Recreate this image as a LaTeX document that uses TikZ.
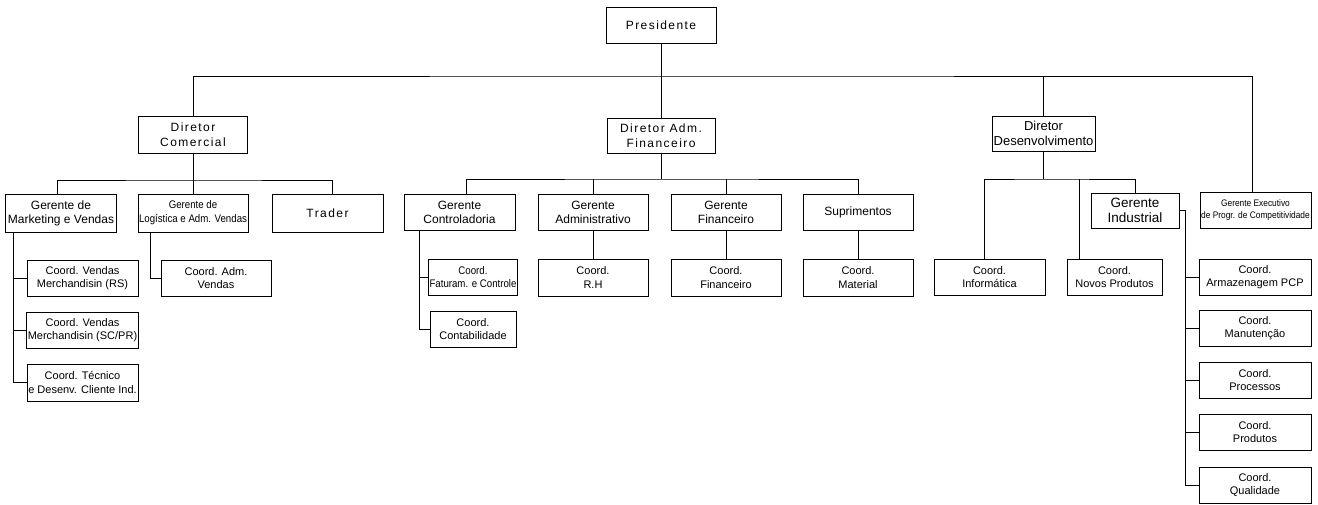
\documentclass[tikz,border=0pt]{standalone}
\usepackage{fontspec}
\setmainfont{Liberation Sans}
\newfontfamily\spaced[LetterSpace=12]{Liberation Sans}
\newfontfamily\cond[FakeStretch=0.88]{Liberation Sans}
\begin{document}
\begin{tikzpicture}[x=1pt,y=-1pt,
  box/.style={draw, line width=0.8pt, align=center, inner sep=1pt, outer sep=0pt, fill=white},
  sz/.style 2 args={minimum width=#1pt, minimum height=#2pt},
  title/.style={font=\spaced\fontsize{12}{14.5}\selectfont},
  mid/.style={font=\fontsize{12}{14}\selectfont},
  small/.style={font=\fontsize{11}{13.5}\selectfont},
  wire/.style={line width=0.8pt}]
\useasboundingbox (0,0) rectangle (1318,504);
% level 0
\node[box,sz={110}{36},title] (pres) at (661,25) {Presidente};
% level 1
\node[box,sz={109}{37},title] (dc) at (193,134.5) {Diretor\\Comercial};
\node[box,sz={108}{35},title] (daf) at (661,135.5) {Diretor Adm.\\Financeiro};
\node[box,sz={103}{35},font=\fontsize{13}{15}\selectfont] (dd) at (1043.5,133.5) {Diretor\\Desenvolvimento};
\node[box,sz={111}{36},font=\cond\fontsize{9.5}{12}\selectfont] (gexec) at (1255.5,210) {Gerente Executivo\\de Progr. de Competitividade};
% level 2 comercial
\node[box,sz={111}{38},mid] (gmv) at (61,213) {Gerente de\\Marketing e Vendas};
\node[box,sz={110}{38},font=\cond\fontsize{11}{14}\selectfont] (glog) at (193,213) {Gerente de\\Logística e Adm. Vendas};
\node[box,sz={111}{38},title] (trader) at (327.5,213) {Trader};
% level 2 adm fin
\node[box,sz={111}{36},mid] (gctrl) at (459.5,212) {Gerente\\Controladoria};
\node[box,sz={110}{36},mid] (gadm) at (593,212) {Gerente\\Administrativo};
\node[box,sz={110}{36},mid] (gfin) at (726,212) {Gerente\\Financeiro};
\node[box,sz={110}{36},mid] (sup) at (858,212) {Suprimentos};
% level 2 desenv
\node[box,sz={88}{35},font=\fontsize{13.5}{15.5}\selectfont] (gind) at (1135,210.5) {Gerente\\Industrial};
% level 3
\node[box,sz={111}{36},small] (cvrs) at (82.5,278) {Coord. Vendas\\Merchandisin (RS)};
\node[box,sz={111}{36},small] (cvsc) at (82.5,330) {Coord. Vendas\\Merchandisin (SC/PR)};
\node[box,sz={111}{37},small] (ctec) at (82.5,382.5) {Coord. Técnico\\e Desenv. Cliente Ind.};
\node[box,sz={110}{36},small] (cadmv) at (216,278) {Coord. Adm.\\Vendas};
\node[box,sz={86}{36},font=\cond\fontsize{11}{13.5}\selectfont] (cfat) at (473,277) {Coord.\\Faturam. e Controle};
\node[box,sz={86}{36},small] (ccont) at (473,329) {Coord.\\Contabilidade};
\node[box,sz={110}{37},small] (crh) at (593,277.5) {Coord.\\R.H};
\node[box,sz={110}{37},small] (cfinan) at (726,277.5) {Coord.\\Financeiro};
\node[box,sz={110}{37},small] (cmat) at (858,277.5) {Coord.\\Material};
\node[box,sz={111}{36},small] (cinf) at (989.5,277) {Coord.\\Informática};
\node[box,sz={95}{36},small] (cnovos) at (1114.5,277) {Coord.\\Novos Produtos};
\node[box,sz={112}{36},small] (carm) at (1255,277) {Coord.\\Armazenagem PCP};
\node[box,sz={112}{36},small] (cman) at (1255,328) {Coord.\\Manutenção};
\node[box,sz={112}{36},small] (cproc) at (1255,380) {Coord.\\Processos};
\node[box,sz={112}{36},small] (cprod) at (1255,432) {Coord.\\Produtos};
\node[box,sz={112}{36},small] (cqual) at (1255,485) {Coord.\\Qualidade};
% connectors
\begin{scope}[wire]
\coordinate (b0) at (661,76);
\draw (pres.south) -- (b0);
\draw (dc.north) |- (b0) -| ([xshift=-3pt]gexec.north);
\draw (b0) -- (daf.north);
\draw (dd.north) -- (dd.north |- b0);
% comercial
\coordinate (b1) at (193,180);
\draw (dc.south) -- (b1);
\draw ([xshift=-4pt]gmv.north) |- (b1) -| ([xshift=5pt]trader.north);
\draw (glog.north) -- (b1);
\coordinate (m0) at ([xshift=-48pt]gmv.south);
\draw (m0) |- (ctec.west);
\draw (cvrs.west) -- (cvrs.west -| m0);
\draw (cvsc.west) -- (cvsc.west -| m0);
\draw ([xshift=-43pt]glog.south) |- (cadmv.west);
% adm fin
\coordinate (b2) at (661,179);
\draw (daf.south) -- (b2);
\draw ([xshift=7pt]gctrl.north) |- (b2) -| (sup.north);
\draw (gadm.north) -- (gadm.north |- b2);
\draw (gfin.north) -- (gfin.north |- b2);
\coordinate (c0) at ([xshift=-40.5pt]gctrl.south);
\draw (c0) |- (ccont.west);
\draw (cfat.west) -- (cfat.west -| c0);
\draw (gadm.south) -- (crh.north);
\draw (gfin.south) -- (cfinan.north);
\draw (sup.south) -- (cmat.north);
% desenv
\coordinate (b3) at (1043.5,179);
\draw (dd.south) -- (b3);
\draw ([xshift=-5.5pt]cinf.north) |- (b3) -| (gind.north);
\draw ([xshift=-35.5pt]cnovos.north) -- ([xshift=-35.5pt]cnovos.north |- b3);
\coordinate (g0) at ([xshift=6pt]gind.east);
\draw (gind.east) -- (g0) |- (cqual.west);
\draw (carm.west) -- (carm.west -| g0);
\draw (cman.west) -- (cman.west -| g0);
\draw (cproc.west) -- (cproc.west -| g0);
\draw (cprod.west) -- (cprod.west -| g0);
\end{scope}
\end{tikzpicture}
\end{document}
